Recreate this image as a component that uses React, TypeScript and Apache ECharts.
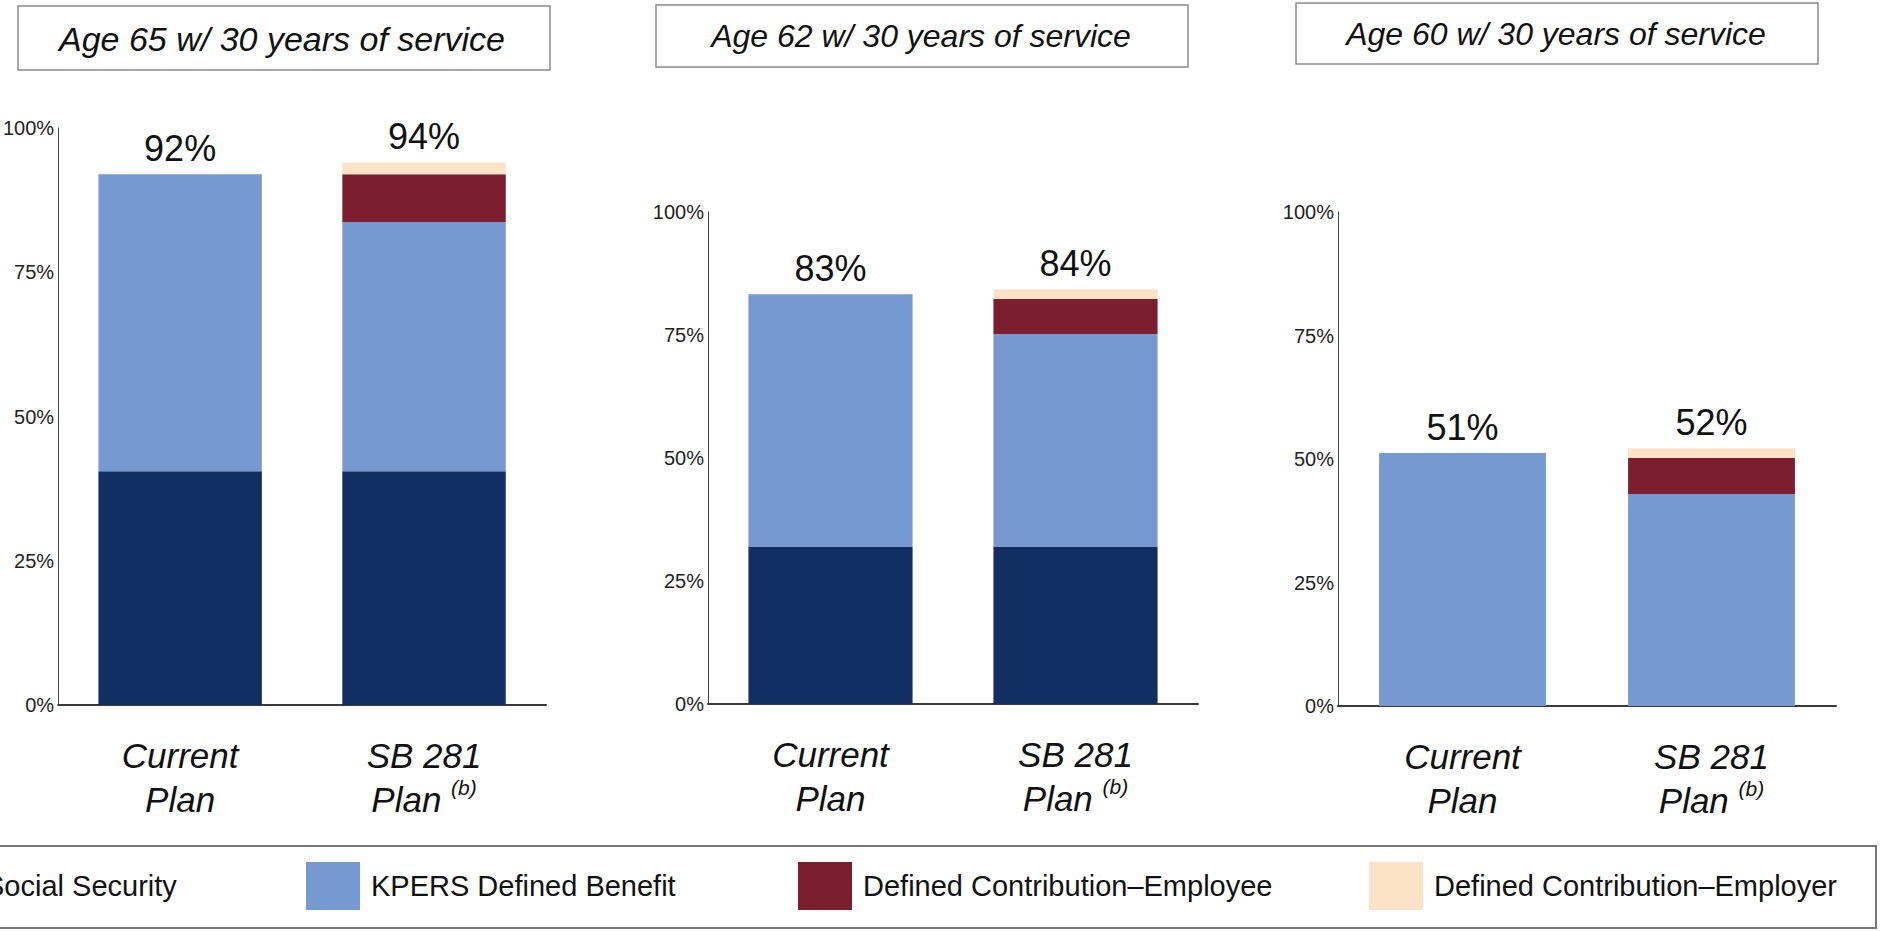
import React, { useEffect, useRef } from "react";
import * as echarts from "echarts";

// ---- data ----
const categories = ["Current Plan", "SB 281 Plan"];
const categoryLine1 = ["Current", "SB 281"];
const categoryLine2 = ["Plan", "Plan"];
const categoryNote = ["", "(b)"];

const panelTitles = [
  "Age 65 w/ 30 years of service",
  "Age 62 w/ 30 years of service",
  "Age 60 w/ 30 years of service",
];

const seriesNames = [
  "Social Security",
  "KPERS Defined Benefit",
  "Defined Contribution\u2013Employee",
  "Defined Contribution\u2013Employer",
];

// values per panel: [Current Plan, SB 281 Plan]
const socialSecurity = [
  [40.5, 40.5],
  [32, 32],
  [0, 0],
];
const kpersDefinedBenefit = [
  [51.5, 43.2],
  [51.3, 43.2],
  [51.2, 42.9],
];
const dcEmployee = [
  [0, 8.3],
  [0, 7.1],
  [0, 7.3],
];
const dcEmployer = [
  [0, 2.0],
  [0, 2.0],
  [0, 2.0],
];

const yTicks = [0, 25, 50, 75, 100];

// ---- styles ----
const COLORS = ["#112f62", "#7699d2", "#7b1e2f", "#fce2c6"];
const FONT = '"Liberation Sans", Arial, Helvetica, sans-serif';
const NARROW = '"Liberation Sans Narrow", "Arial Narrow", "Liberation Sans", sans-serif';

const grids = [
  { left: 56, top: 128, width: 490, height: 577 },
  { left: 708, top: 212, width: 490, height: 492 },
  { left: 1338, top: 212, width: 498, height: 494 },
];
const titleBoxes = [
  { x: 18, y: 6, w: 532, h: 64, cx: 282, cy: 39, fs: 34 },
  { x: 656, y: 5, w: 532, h: 62, cx: 921, cy: 36, fs: 32 },
  { x: 1296, y: 3, w: 522, h: 61, cx: 1556, cy: 34, fs: 32 },
];
const legendLefts = [-80, 306, 798, 1369];

export default function App() {
  const ref = useRef<HTMLDivElement>(null);

  useEffect(() => {
    if (!ref.current) return;
    const chart = echarts.init(ref.current, undefined, { renderer: "svg" });

    const stacks = [socialSecurity, kpersDefinedBenefit, dcEmployee, dcEmployer];

    const series: any[] = [];
    grids.forEach((_, p) => {
      stacks.forEach((arr, s) => {
        series.push({
          type: "bar",
          name: seriesNames[s],
          xAxisIndex: p,
          yAxisIndex: p,
          stack: "panel" + p,
          barWidth: "67%",
          data: arr[p],
          itemStyle: { color: COLORS[s] },
          emphasis: { disabled: true },
          label:
            s === stacks.length - 1
              ? {
                  show: true,
                  position: "top",
                  distance: 8,
                  fontFamily: FONT,
                  fontSize: 36,
                  color: "#111",
                  formatter: (prm: any) => {
                    const i = prm.dataIndex;
                    const total = stacks.reduce((acc, a) => acc + a[p][i], 0);
                    return Math.round(total) + "%";
                  },
                }
              : { show: false },
        });
      });
    });

    const option: any = {
      animation: false,
      backgroundColor: "#ffffff",
      title: titleBoxes.map((t, i) => ({
        text: panelTitles[i],
        left: t.cx,
        top: t.cy,
        textAlign: "center",
        textVerticalAlign: "middle",
        padding: 0,
        textStyle: {
          fontFamily: FONT,
          fontStyle: "italic",
          fontWeight: "normal",
          fontSize: t.fs,
          color: "#111",
        },
      })),
      legend: legendLefts.map((l, i) => ({
        data: [seriesNames[i]],
        left: l,
        top: 862,
        icon: "rect",
        itemWidth: 54,
        itemHeight: 48,
        selectedMode: false,
        padding: 0,
        textStyle: {
          fontFamily: FONT,
          fontSize: 29,
          color: "#111",
          padding: [0, 0, 0, 6],
        },
      })),
      grid: grids,
      xAxis: grids.map((_, p) => ({
        type: "category",
        gridIndex: p,
        data: categories,
        axisTick: { show: false },
        axisLine: { show: true, lineStyle: { color: "#3a3a3a", width: 2 } },
        axisLabel: {
          interval: 0,
          hideOverlap: false,
          margin: 28,
          fontFamily: FONT,
          fontStyle: "italic",
          fontSize: 35,
          lineHeight: 44,
          color: "#111",
          formatter: (_v: string, i: number) =>
            categoryLine1[i] +
            "\n" +
            categoryLine2[i] +
            (categoryNote[i] ? " {sup|" + categoryNote[i] + "}" : ""),
          rich: {
            sup: {
              fontFamily: FONT,
              fontStyle: "italic",
              fontSize: 21,
              lineHeight: 30,
              verticalAlign: "top",
              color: "#111",
            },
          },
        },
      })),
      yAxis: grids.map((_, p) => ({
        type: "value",
        gridIndex: p,
        min: yTicks[0],
        max: yTicks[yTicks.length - 1],
        interval: yTicks[1] - yTicks[0],
        axisLine: { show: true, lineStyle: { color: "#444", width: 1 } },
        axisTick: { show: false },
        splitLine: { show: false },
        axisLabel: {
          margin: 4,
          fontFamily: NARROW,
          fontSize: 20,
          color: "#222",
          formatter: "{value}%",
        },
      })),
      graphic: [
        ...titleBoxes.map((t) => ({
          type: "rect",
          shape: { x: t.x, y: t.y, width: t.w, height: t.h },
          style: { fill: "none", stroke: "#8a8a8a", lineWidth: 1.5 },
          silent: true,
          z: -1,
        })),
        {
          type: "rect",
          shape: { x: -5, y: 846, width: 1881, height: 82 },
          style: { fill: "none", stroke: "#777", lineWidth: 2 },
          silent: true,
          z: -1,
        },
      ],
      series,
    };

    chart.setOption(option);
    return () => chart.dispose();
  }, []);

  return (
    <div
      ref={ref}
      style={{ position: "fixed", left: 0, top: 0, width: 1881, height: 931, background: "#fff" }}
    />
  );
}
